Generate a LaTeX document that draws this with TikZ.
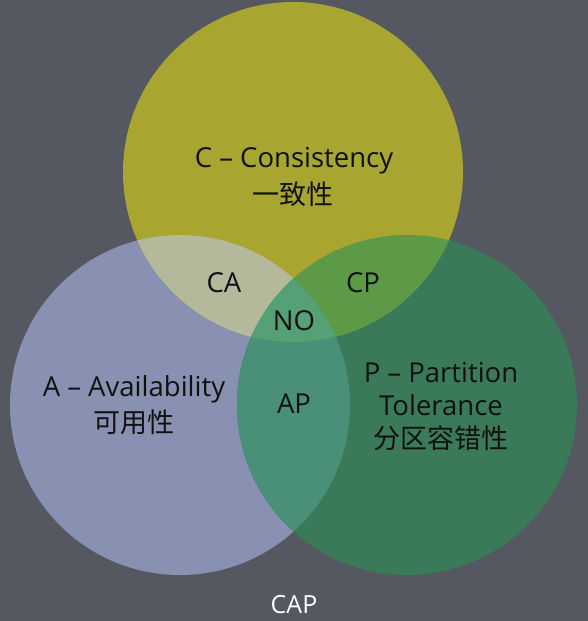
\documentclass[tikz,border=0pt]{standalone}
\usepackage{fontspec}
\setmainfont{Open Sans}
\newfontfamily\cjk{Noto Sans CJK SC}
\definecolor{bgc}{HTML}{555860}
\definecolor{cc}{HTML}{A8A530}
\definecolor{ac}{HTML}{8891B1}
\definecolor{pc}{HTML}{3A7A58}
\definecolor{cac}{HTML}{B5B99C}
\definecolor{cpc}{HTML}{5D9A48}
\definecolor{apc}{HTML}{4A8F78}
\definecolor{noc}{HTML}{55A075}
\definecolor{txt}{HTML}{111111}
\tikzset{
  lbl/.style={text=txt,font=\fontsize{27.5}{31}\selectfont,align=center,inner sep=0pt},
  cjkl/.style={text=txt,font=\cjk\fontsize{27}{31}\selectfont,inner sep=0pt},
}
\begin{document}
\begin{tikzpicture}[x=1pt,y=-1pt]
\fill[bgc] (0,0) rectangle (588,621);
\useasboundingbox (0,0) rectangle (588,621);
\def\Cc{(293,172) circle (170)}
\def\Ac{(180,405) circle (170)}
\def\Pc{(407,405) circle (170)}
\fill[ac] \Ac;
\fill[pc] \Pc;
\fill[cc] \Cc;
\begin{scope}\clip \Cc; \fill[cac] \Ac; \fill[cpc] \Pc; \end{scope}
\begin{scope}\clip \Ac; \fill[apc] \Pc; \end{scope}
\begin{scope}\clip \Cc; \clip \Ac; \fill[noc] \Pc; \end{scope}
\node[lbl] (c1) at (294,161) {C – Consistency};
\node[cjkl] (c2) at (293,194) {一致性};
\node[lbl] (ca) at (224,283) {CA};
\node[lbl] (cp) at (363,283) {CP};
\node[lbl] (no) at (294,321) {NO};
\node[lbl] (ap) at (294,404) {AP};
\node[lbl] (a1) at (134,389) {A – Availability};
\node[cjkl] (a2) at (134,422) {可用性};
\node[lbl] (p1) at (441,373) {P – Partition};
\node[lbl] (p2) at (441,405) {Tolerance};
\node[cjkl] (p3) at (441,438) {分区容错性};
\node[text=white,font=\fontsize{25}{29}\selectfont,inner sep=0pt] (cap) at (294,605) {CAP};
\end{tikzpicture}
\end{document}
